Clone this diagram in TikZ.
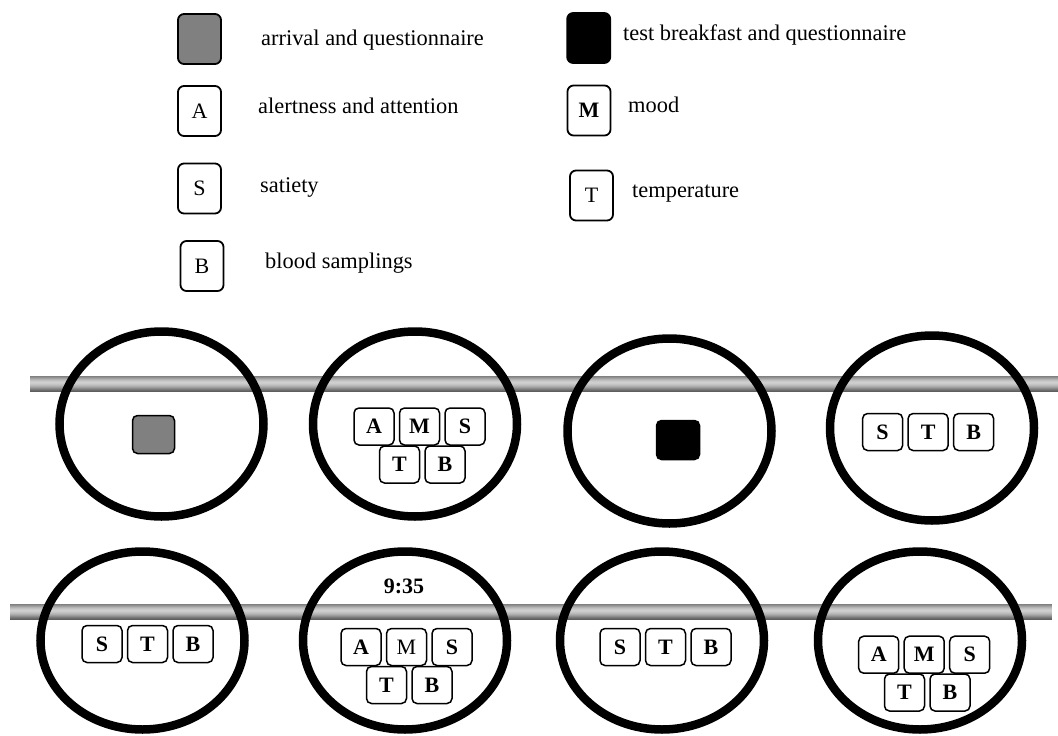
\documentclass[tikz,border=0pt]{standalone}
\usepackage{fontspec}
\setmainfont{Liberation Serif}
\usetikzlibrary{shapes.geometric,positioning}

\begin{document}
\begin{tikzpicture}[x=1pt,y=-1pt,
  lab/.style={anchor=base west,inner sep=0pt,font=\fontsize{22.4}{26}\selectfont},
  key/.style={draw,rounded corners=6pt,line width=1.8pt,minimum width=43pt,minimum height=50pt,inner sep=0pt,font=\fontsize{22}{26}\selectfont},
  tag/.style={draw,rounded corners=5pt,line width=1.5pt,minimum width=40pt,minimum height=37pt,inner sep=0pt,font=\fontsize{22}{26}\selectfont\bfseries},
  oval/.style={draw,ellipse,line width=8.5pt,minimum width=204pt,inner sep=0pt}]
\useasboundingbox (0,0) rectangle (1058,736);
% legend
\node[key,fill=black!50](karr) at(199.5,39){};
\node[key](ka)   at(199.5,111){A};
\node[key](ks)   at(199.5,188.5){S};
\node[key](kb)   at(202,266){B};
\node[key,fill=black](kbrk) at(588.7,38){};
\node[key](km)   at(589,110.5){\textbf{M}};
\node[key](kt)   at(591.5,195.5){T};
\node[lab](tarr) at(261,45){arrival and questionnaire};
\node[lab](ta)   at(258,113){alertness and attention};
\node[lab](ts)   at(260,192.7){satiety};
\node[lab](tb)   at(265,268.3){blood samplings};
\node[lab](tbrk) at(623,40.7){test breakfast and questionnaire};
\node[lab](tm)   at(628,112.7){mood};
\node[lab](tt)   at(632,197){temperature};
% time line (shaded rods, drawn band by band)
\foreach \i/\c in {0/50,1/44,2/37,3/30,4/25,5/21,6/19,7/20,8/23,9/27,10/32,11/38,12/45,13/52,14/58,15/63}{
  \fill[black!\c](30,376+\i) rectangle (1058,377.2+\i);
  \fill[black!\c](10,604+\i) rectangle (1052,605.2+\i);
}
\node[oval,minimum height=185pt](o1) at(161.5,424){};
\node[oval,minimum height=185pt](o2) at(415,424){};
\node[oval,minimum height=185pt](o3) at(669.5,431){};
\node[oval,minimum height=185pt](o4) at(932,428){};
\node[oval,minimum height=178pt](o5) at(142.5,640.5){};
\node[oval,minimum height=178pt](o6) at(405,640.5){};
\node[oval,minimum height=178pt](o7) at(662,640.5){};
\node[oval,minimum height=178pt](o8) at(920,640.5){};
% contents
\node[tag,fill=black!50,minimum width=42pt,minimum height=38pt](g1) at(153.5,434.5){};
\node[tag](a2) at(374,426.5){A};
\node[tag,right=4pt of a2](m2){M};
\node[tag,right=4pt of m2](s2){S};
\node[tag](t2) at(399.5,464.5){T};
\node[tag,right=4pt of t2](b2){B};
\node[tag,fill=black,minimum width=43pt,minimum height=39pt](g3) at(678,440){};
\node[tag](s4) at(882.6,432){S};
\node[tag,right=4pt of s4](t4){T};
\node[tag,right=4pt of t4](b4){B};
\node[tag](s5) at(102,644){S};
\node[tag,right=4pt of s5](t5){T};
\node[tag,right=4pt of t5](b5){B};
\node[font=\fontsize{22}{26}\selectfont\bfseries,anchor=base,inner sep=0pt](h6) at(404,593){9:35};
\node[tag](a6) at(361,647){A};
\node[tag,right=4pt of a6](m6){\mdseries M};
\node[tag,right=4pt of m6](s6){S};
\node[tag](t6) at(386.5,685){T};
\node[tag,right=4pt of t6](b6){B};
\node[tag](s7) at(620,647){S};
\node[tag,right=4pt of s7](t7){T};
\node[tag,right=4pt of t7](b7){B};
\node[tag](a8) at(878.7,654.7){A};
\node[tag,right=4pt of a8](m8){M};
\node[tag,right=4pt of m8](s8){S};
\node[tag](t8) at(904.5,692.5){T};
\node[tag,right=4pt of t8](b8){B};
\end{tikzpicture}
\end{document}
